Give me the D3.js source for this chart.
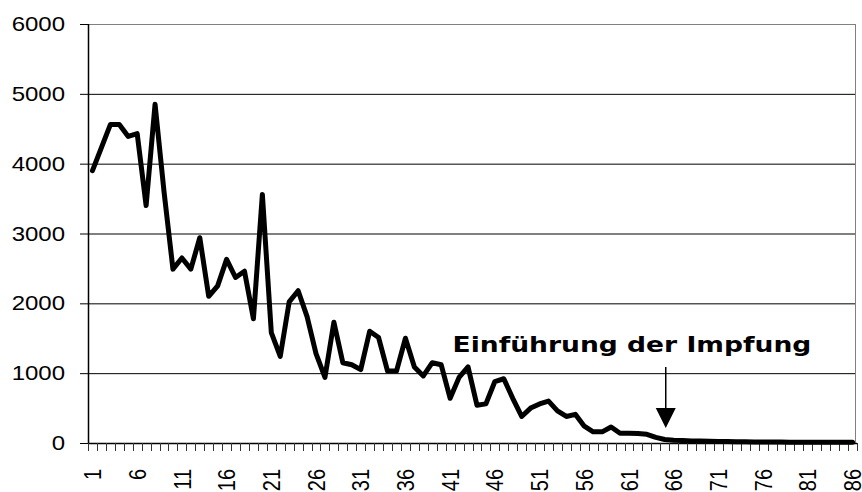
<!DOCTYPE html>
<html><head><meta charset="utf-8">
<script src="https://cdn.jsdelivr.net/npm/d3@7"></script>
<style>body{margin:0;background:#fff}svg{display:block}</style>
</head><body>
<svg id="c" width="862" height="492"></svg>
<script>
const categories = d3.range(1, 87);
const values = [3900,4230,4560,4560,4390,4430,3400,4850,3600,2490,
2650,2490,2940,2100,2250,2630,2370,2460,1780,3560,
1580,1240,2020,2180,1810,1280,940,1730,1150,1120,
1050,1600,1510,1030,1030,1500,1090,960,1150,1120,
640,940,1090,540,560,880,920,640,380,500,
560,600,460,380,410,240,160,160,230,140,
140,135,125,80,50,40,35,30,30,25,
20,20,18,18,15,15,15,15,12,12,
12,12,12,10,10,10];
const yTicks = [0,1000,2000,3000,4000,5000,6000];
const xLabels = categories.filter(c => (c - 1) % 5 === 0);
const annotation = "Einführung der Impfung";
const annotationCategory = 65;

const svg = d3.select("#c");
const L = 88, R = 857, T = 24, B = 443, SX = 1.2;
const x = d3.scaleBand().domain(categories).range([L, R]).padding(0);
const y = d3.scaleLinear().domain([0, 6000]).range([B, T]);
const cx = c => x(c) + x.bandwidth() / 2;

// gridlines
svg.append("g").selectAll("line").data(yTicks.filter(v => v > 0 && v < 6000)).join("line")
  .attr("x1", L).attr("x2", R - 1).attr("y1", d => y(d) + 0.5).attr("y2", d => y(d) + 0.5)
  .attr("stroke", "#000").attr("stroke-width", 1);
// plot border
svg.append("rect").attr("x", L + 0.5).attr("y", T + 0.5).attr("width", R - L - 2).attr("height", B - T)
  .attr("fill", "none").attr("stroke", "#808080").attr("stroke-width", 1);
// y axis
svg.append("line").attr("x1", L + 0.5).attr("x2", L + 0.5).attr("y1", T).attr("y2", B + 1)
  .attr("stroke", "#000").attr("stroke-width", 1.5);
svg.append("g").selectAll("line").data(yTicks).join("line")
  .attr("x1", L - 8).attr("x2", L).attr("y1", d => y(d) + 0.5).attr("y2", d => y(d) + 0.5)
  .attr("stroke", "#000");
svg.append("g").selectAll("text").data(yTicks).join("text")
  .attr("transform", d => `translate(65,${y(d)}) scale(${SX},1)`)
  .attr("text-anchor", "end").attr("dy", "0.35em")
  .attr("font-family", "Liberation Sans, Arial, sans-serif").attr("font-size", 20)
  .attr("fill", "#000").text(d => d);
// x axis
svg.append("line").attr("x1", L).attr("x2", R).attr("y1", B + 0.5).attr("y2", B + 0.5)
  .attr("stroke", "#000").attr("stroke-width", 1.5);
const bounds = d3.range(0, categories.length + 1).map(i => L + i * x.step());
svg.append("g").selectAll("line").data(bounds).join("line")
  .attr("x1", d => Math.round(d) + 0.5).attr("x2", d => Math.round(d) + 0.5)
  .attr("y1", B).attr("y2", B + 8).attr("stroke", "#333");
svg.append("g").selectAll("text").data(xLabels).join("text")
  .attr("transform", d => `translate(${cx(d)},469) scale(${SX},1) rotate(-90)`)
  .attr("text-anchor", "end").attr("dy", "0.36em")
  .attr("font-family", "Liberation Sans, Arial, sans-serif").attr("font-size", 20)
  .attr("fill", "#000").text(d => d);
// line
const line = d3.line().x((d, i) => cx(categories[i])).y(d => y(d));
svg.append("path").datum(values).attr("d", line)
  .attr("fill", "none").attr("stroke", "#000").attr("stroke-width", 5)
  .attr("stroke-linejoin", "round").attr("stroke-linecap", "round");
// annotation
const ax = cx(annotationCategory) + 1;
svg.append("line").attr("x1", ax).attr("x2", ax).attr("y1", 367).attr("y2", 409)
  .attr("stroke", "#000").attr("stroke-width", 1.5);
svg.append("path").attr("d", `M${ax-10},408L${ax+10},408L${ax},428Z`).attr("fill", "#000");
const t = svg.append("text").attr("font-family", "DejaVu Sans, Verdana, sans-serif")
  .attr("font-weight", "bold").attr("font-size", 22).attr("fill", "#000").text(annotation);
const w = t.node().getComputedTextLength();
t.attr("transform", `translate(452.5,351.5) scale(${359 / w},1)`);
</script>
</body></html>
